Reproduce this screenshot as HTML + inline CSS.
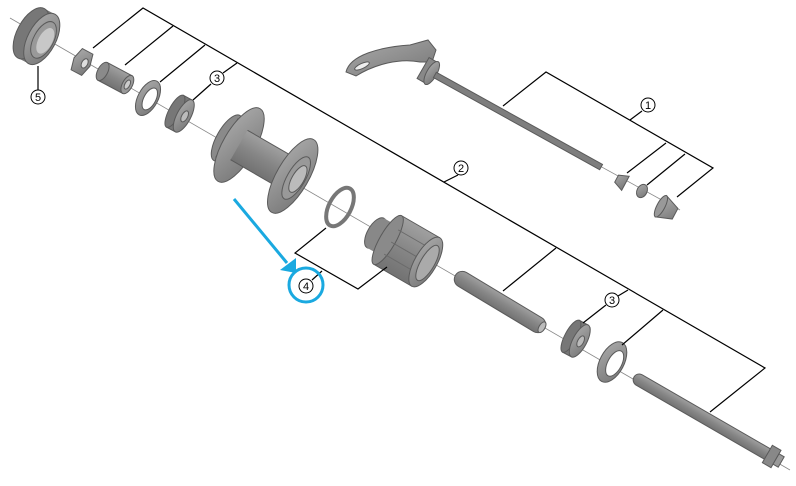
<!DOCTYPE html>
<html><head><style>html,body{margin:0;padding:0;background:#fff}svg{display:block}</style></head>
<body>
<svg width="796" height="486" viewBox="0 0 796 486" xmlns="http://www.w3.org/2000/svg" font-family="Liberation Sans, sans-serif">
<defs>
<linearGradient id="g" x1="0" y1="0" x2="1" y2="1"><stop offset="0" stop-color="#aaa"/><stop offset="1" stop-color="#777"/></linearGradient>
<linearGradient id="gc" x1="0" y1="0" x2="0" y2="1"><stop offset="0" stop-color="#a0a0a0"/><stop offset="0.5" stop-color="#868686"/><stop offset="1" stop-color="#727272"/></linearGradient>
</defs>
<g stroke="#888" stroke-width="0.8">
<line x1="10" y1="18" x2="790" y2="470"/>
<line x1="425" y1="70" x2="680" y2="210"/>
</g>
<g stroke="#5a5a5a" stroke-width="1">
<!-- 5 cup -->
<g transform="translate(40,38) rotate(28)"><rect x="-10" y="-28" width="12" height="56" fill="#777" stroke="none"/><ellipse cx="-10" rx="14" ry="28" fill="#777"/><ellipse cx="2" rx="14" ry="28" fill="url(#g)"/><ellipse cx="4" rx="10" ry="20" fill="#999"/><ellipse cx="6" rx="7" ry="14" fill="#c8c8c8" stroke="none"/></g>
<g transform="translate(82,62) rotate(28)"><polygon points="-6,-12 6,-12 9,0 6,12 -6,12 -9,0" fill="url(#g)"/><ellipse cx="3" rx="3" ry="5" fill="#ddd"/></g>
<g transform="translate(115,78) rotate(28)"><rect x="-14" y="-10" width="28" height="20" fill="url(#gc)"/><ellipse cx="-14" rx="5" ry="10" fill="#8a8a8a"/><ellipse cx="14" rx="5" ry="10" fill="#999"/><ellipse cx="14" rx="2.5" ry="5" fill="#ccc"/></g>
<g transform="translate(148,98) rotate(28)"><ellipse rx="10" ry="19" fill="url(#g)"/><ellipse cx="2" rx="6" ry="12" fill="#fff"/></g>
<g transform="translate(182,115) rotate(28)"><rect x="-8" y="-18" width="10" height="36" fill="#777"/><ellipse cx="-8" rx="6" ry="18" fill="#777"/><ellipse cx="2" rx="7" ry="18" fill="url(#g)"/><ellipse cx="3" rx="3" ry="6" fill="#bbb"/></g>
<!-- hub -->
<g transform="translate(265,160) rotate(30)">
<ellipse cx="-44" rx="10" ry="26" fill="#8a8a8a"/>
<rect x="-44" y="-22" width="14" height="44" fill="#8a8a8a"/>
<ellipse cx="-30" rx="16" ry="42" fill="url(#g)"/>
<rect x="-30" y="-17" width="60" height="34" fill="url(#gc)" stroke="none"/>
<line x1="-30" y1="-17" x2="30" y2="-17"/><line x1="-30" y1="17" x2="30" y2="17"/>
<ellipse cx="32" rx="16" ry="42" fill="url(#g)"/>
<ellipse cx="36" rx="9" ry="24" fill="#999"/>
<ellipse cx="38" rx="6" ry="15" fill="#bbb"/>
</g>
<g transform="translate(340,207) rotate(28)"><ellipse rx="11" ry="21" fill="none" stroke="#777" stroke-width="4"/></g>
<!-- freehub -->
<g transform="translate(405,250) rotate(30)">
<ellipse cx="-34" rx="8" ry="17" fill="#888"/>
<rect x="-34" y="-17" width="14" height="34" fill="#888" stroke="none"/>
<rect x="-20" y="-28" width="44" height="56" fill="url(#gc)"/>
<ellipse cx="-20" rx="8" ry="28" fill="#8a8a8a"/>
<g stroke="#6a6a6a"><line x1="-16" y1="-14" x2="22" y2="-14"/><line x1="-16" y1="0" x2="22" y2="0"/><line x1="-16" y1="14" x2="22" y2="14"/></g>
<ellipse cx="24" rx="11" ry="28" fill="url(#g)"/>
<ellipse cx="26" rx="7" ry="20" fill="#aaa"/>
</g>
<g transform="translate(500,302) rotate(31)"><rect x="-52" y="-8" width="104" height="16" rx="8" fill="url(#gc)"/><ellipse cx="49" rx="3" ry="6" fill="#bbb"/></g>
<g transform="translate(578,340) rotate(28)"><rect x="-8" y="-18" width="10" height="36" fill="#777"/><ellipse cx="-8" rx="6" ry="18" fill="#777"/><ellipse cx="2" rx="7" ry="18" fill="url(#g)"/><ellipse cx="3" rx="3" ry="6" fill="#bbb"/></g>
<g transform="translate(612,362) rotate(28)"><ellipse rx="12" ry="22" fill="url(#g)"/><ellipse cx="3" rx="7" ry="14" fill="#fff"/></g>
<g transform="translate(705,418) rotate(30)"><rect x="-82" y="-6" width="164" height="12" rx="6" fill="url(#gc)"/><rect x="72" y="-10" width="10" height="20" fill="#888"/><rect x="82" y="-6" width="6" height="12" fill="#999"/></g>
<!-- skewer -->
<path d="M346,72 C350,55 380,47 410,45 L428,40 L436,50 L432,62 L420,62 C400,58 375,64 356,76 Z" fill="url(#g)"/>
<ellipse cx="362" cy="66" rx="8" ry="2.5" fill="#eee" transform="rotate(-25 362 66)"/>
<g transform="translate(430,72) rotate(30)"><rect x="-8" y="-12" width="10" height="24" fill="#888"/><ellipse cx="2" rx="5" ry="13" fill="url(#g)"/></g>
<g transform="translate(518,121) rotate(29)"><rect x="-95" y="-3" width="190" height="6" fill="#7e7e7e"/></g>
<g transform="translate(621,181) rotate(28)"><polygon points="-5,-4 5,-8 5,8 -5,4" fill="url(#g)"/></g>
<g transform="translate(642,191) rotate(28)"><ellipse rx="5" ry="7" fill="url(#g)"/></g>
<g transform="translate(668,210) rotate(28)"><polygon points="-8,-12 8,-6 8,6 -8,12" fill="url(#g)"/><ellipse cx="-8" rx="4" ry="12" fill="#999"/></g>
</g>
<g stroke="#000" stroke-width="1.2" fill="none">
<polyline points="93,48 143,8 765,368 710,412"/>
<line x1="173" y1="26" x2="125" y2="65"/>
<line x1="205" y1="45" x2="160" y2="82"/>
<line x1="237" y1="63" x2="223" y2="73"/><line x1="211" y1="84" x2="193" y2="100"/>
<line x1="38" y1="66" x2="38" y2="90"/>
<line x1="556" y1="248" x2="503" y2="291"/>
<line x1="628" y1="290" x2="618" y2="296"/><line x1="606" y1="305" x2="583" y2="323"/>
<line x1="663" y1="310" x2="622" y2="345"/>
<line x1="458" y1="175" x2="444" y2="182"/>
<polyline points="326,228 295,253 358,289 387,267"/>
<line x1="312" y1="280" x2="322" y2="271"/>
<polyline points="503,106 546,72 713,168 677,197"/>
<line x1="630" y1="120" x2="642" y2="111"/>
<line x1="666" y1="143" x2="627" y2="173"/>
<line x1="685" y1="154" x2="647" y2="185"/>
</g>
<g fill="#fff" stroke="#000" stroke-width="1">
<circle cx="38" cy="97" r="7"/><circle cx="217" cy="78" r="7"/><circle cx="461" cy="168" r="7"/>
<circle cx="612" cy="300" r="7"/><circle cx="306" cy="286" r="7"/><circle cx="648" cy="105" r="7"/>
</g>
<g font-size="11" text-anchor="middle" fill="#000">
<text x="38" y="101">5</text><text x="217" y="82">3</text><text x="461" y="172">2</text>
<text x="612" y="304">3</text><text x="306" y="290">4</text><text x="648" y="109">1</text>
</g>
<circle cx="306" cy="285" r="17" fill="none" stroke="#1aa9e0" stroke-width="3"/>
<line x1="234" y1="199" x2="287" y2="263" stroke="#1aa9e0" stroke-width="3"/>
<polygon points="280,270 296,258 296,273" fill="#1aa9e0"/>
</svg>
</body></html>
